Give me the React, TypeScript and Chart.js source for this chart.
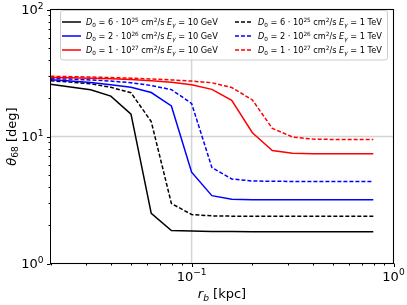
import React, { useEffect, useRef } from "react";
import { Chart, registerables } from "chart.js";

Chart.register(...registerables);

// ---- data ----
const rb = [0.02, 0.0251, 0.0316, 0.0398, 0.0501, 0.0631, 0.0794, 0.1, 0.126, 0.158, 0.2, 0.251, 0.316, 0.398, 0.501, 0.631, 0.794];

const blackSolid = [25.8, 24.5, 23.3, 20.8, 15.0, 2.48, 1.82, 1.80, 1.79, 1.79, 1.78, 1.78, 1.78, 1.78, 1.78, 1.78, 1.78];
const blueSolid = [28.0, 27.3, 26.6, 25.6, 24.4, 22.2, 17.4, 5.24, 3.42, 3.21, 3.18, 3.17, 3.17, 3.17, 3.17, 3.17, 3.17];
const redSolid = [29.2, 29.0, 28.8, 28.5, 28.1, 27.5, 26.7, 25.6, 23.5, 19.3, 10.7, 7.76, 7.39, 7.32, 7.31, 7.30, 7.30];
const blackDashed = [27.5, 26.8, 26.0, 24.4, 22.1, 13.1, 2.97, 2.43, 2.37, 2.36, 2.36, 2.36, 2.36, 2.36, 2.36, 2.36, 2.36];
const blueDashed = [28.6, 28.3, 27.9, 27.3, 26.5, 25.2, 23.4, 18.2, 5.70, 4.63, 4.46, 4.44, 4.43, 4.43, 4.43, 4.43, 4.43];
const redDashed = [29.8, 29.6, 29.4, 29.1, 28.8, 28.4, 27.9, 27.3, 26.5, 24.3, 19.4, 11.6, 9.90, 9.54, 9.48, 9.47, 9.47];

const xMajor = [0.1, 1];
const xMinor = [0.02, 0.03, 0.04, 0.05, 0.06, 0.07, 0.08, 0.09, 0.2, 0.3, 0.4, 0.5, 0.6, 0.7, 0.8, 0.9];
const yMajor = [1, 10, 100];
const yMinor = [2, 3, 4, 5, 6, 7, 8, 9, 20, 30, 40, 50, 60, 70, 80, 90];
const xTickExp = ["\u22121", "0"];
const yTickExp = ["0", "1", "2"];

type Seg = { t: string; it?: boolean; sub?: boolean; sup?: boolean };

const legendLabels: Seg[][] = [
  [{ t: "D", it: true }, { t: "0", sub: true }, { t: " = 6 \u00b7 10" }, { t: "25", sup: true }, { t: " cm" }, { t: "2", sup: true }, { t: "/s " }, { t: "E", it: true }, { t: "\u03b3", it: true, sub: true }, { t: " = 10 GeV" }],
  [{ t: "D", it: true }, { t: "0", sub: true }, { t: " = 2 \u00b7 10" }, { t: "26", sup: true }, { t: " cm" }, { t: "2", sup: true }, { t: "/s " }, { t: "E", it: true }, { t: "\u03b3", it: true, sub: true }, { t: " = 10 GeV" }],
  [{ t: "D", it: true }, { t: "0", sub: true }, { t: " = 1 \u00b7 10" }, { t: "27", sup: true }, { t: " cm" }, { t: "2", sup: true }, { t: "/s " }, { t: "E", it: true }, { t: "\u03b3", it: true, sub: true }, { t: " = 10 GeV" }],
  [{ t: "D", it: true }, { t: "0", sub: true }, { t: " = 6 \u00b7 10" }, { t: "25", sup: true }, { t: " cm" }, { t: "2", sup: true }, { t: "/s " }, { t: "E", it: true }, { t: "\u03b3", it: true, sub: true }, { t: " = 1 TeV" }],
  [{ t: "D", it: true }, { t: "0", sub: true }, { t: " = 2 \u00b7 10" }, { t: "26", sup: true }, { t: " cm" }, { t: "2", sup: true }, { t: "/s " }, { t: "E", it: true }, { t: "\u03b3", it: true, sub: true }, { t: " = 1 TeV" }],
  [{ t: "D", it: true }, { t: "0", sub: true }, { t: " = 1 \u00b7 10" }, { t: "27", sup: true }, { t: " cm" }, { t: "2", sup: true }, { t: "/s " }, { t: "E", it: true }, { t: "\u03b3", it: true, sub: true }, { t: " = 1 TeV" }],
];

const xTitle: Seg[] = [{ t: "r", it: true }, { t: "b", it: true, sub: true }, { t: " [kpc]" }];
const yTitle: Seg[] = [{ t: "\u03b8", it: true }, { t: "68", sub: true }, { t: " [deg]" }];

const series = [
  { values: blackSolid, color: "#000000", dash: false },
  { values: blueSolid, color: "#0000ff", dash: false },
  { values: redSolid, color: "#ff0000", dash: false },
  { values: blackDashed, color: "#000000", dash: true },
  { values: blueDashed, color: "#0000ff", dash: true },
  { values: redDashed, color: "#ff0000", dash: true },
];

const FONT = '"DejaVu Sans", "Liberation Sans", sans-serif';
const DASH = [4, 2];

function drawRich(ctx: CanvasRenderingContext2D, segs: Seg[], x: number, y: number, size: number, draw = true): number {
  let cx = x;
  for (const s of segs) {
    const fs = s.sub || s.sup ? size * 0.7 : size;
    ctx.font = `${s.it ? "italic " : ""}${fs}px ${FONT}`;
    const dy = s.sub ? size * 0.22 : s.sup ? -size * 0.42 : 0;
    if (draw) ctx.fillText(s.t, cx, y + dy);
    cx += ctx.measureText(s.t).width;
  }
  return cx - x;
}

const decor = {
  id: "decor",
  beforeDatasetsDraw(chart: any) {
    const { ctx, chartArea: a, scales } = chart;
    ctx.save();
    ctx.strokeStyle = "rgba(176,176,176,0.55)";
    ctx.lineWidth = 1.5;
    for (const v of xMajor) {
      const px = scales.x.getPixelForValue(v);
      ctx.beginPath();
      ctx.moveTo(px, a.top);
      ctx.lineTo(px, a.bottom);
      ctx.stroke();
    }
    for (const v of yMajor) {
      const py = scales.y.getPixelForValue(v);
      ctx.beginPath();
      ctx.moveTo(a.left, py);
      ctx.lineTo(a.right, py);
      ctx.stroke();
    }
    ctx.restore();
  },
  afterDraw(chart: any) {
    const { ctx, chartArea: a, scales } = chart;
    ctx.save();
    // frame
    ctx.strokeStyle = "#000";
    ctx.lineWidth = 1;
    ctx.strokeRect(a.left, a.top, a.right - a.left, a.bottom - a.top);
    // ticks
    const tick = (px: number, py: number, dx: number, dy: number) => {
      ctx.beginPath();
      ctx.moveTo(px, py);
      ctx.lineTo(px + dx, py + dy);
      ctx.stroke();
    };
    for (const v of xMajor) tick(Math.round(scales.x.getPixelForValue(v)) + 0.5, a.bottom, 0, 3.5);
    for (const v of xMinor) tick(Math.round(scales.x.getPixelForValue(v)) + 0.5, a.bottom, 0, 2);
    for (const v of yMajor) tick(a.left, Math.round(scales.y.getPixelForValue(v)) + 0.5, -3.5, 0);
    for (const v of yMinor) tick(a.left, Math.round(scales.y.getPixelForValue(v)) + 0.5, -2, 0);

    // tick labels
    ctx.fillStyle = "#000";
    ctx.textBaseline = "alphabetic";
    ctx.textAlign = "left";
    const TS = 13;
    xMajor.forEach((v, i) => {
      const segs: Seg[] = [{ t: "10" }, { t: xTickExp[i], sup: true }];
      const w = drawRich(ctx, segs, 0, 0, TS, false);
      const px = scales.x.getPixelForValue(v);
      drawRich(ctx, segs, px - w / 2, a.bottom + 17, TS);
    });
    yMajor.forEach((v, i) => {
      const segs: Seg[] = [{ t: "10" }, { t: yTickExp[i], sup: true }];
      const w = drawRich(ctx, segs, 0, 0, TS, false);
      const py = scales.y.getPixelForValue(v);
      drawRich(ctx, segs, a.left - 7 - w, py + 4.5, TS);
    });

    // axis titles
    const xw = drawRich(ctx, xTitle, 0, 0, 13, false);
    drawRich(ctx, xTitle, (a.left + a.right) / 2 - xw / 2, 298, 13);
    const yw = drawRich(ctx, yTitle, 0, 0, 13, false);
    ctx.save();
    ctx.translate(15.5, (a.top + a.bottom) / 2);
    ctx.rotate(-Math.PI / 2);
    drawRich(ctx, yTitle, -yw / 2, 0, 13);
    ctx.restore();

    // legend
    const lx = 60.5, ly = 10.5, lw = 327, lh = 49.5, r = 2.5;
    ctx.beginPath();
    ctx.moveTo(lx + r, ly);
    ctx.lineTo(lx + lw - r, ly);
    ctx.quadraticCurveTo(lx + lw, ly, lx + lw, ly + r);
    ctx.lineTo(lx + lw, ly + lh - r);
    ctx.quadraticCurveTo(lx + lw, ly + lh, lx + lw - r, ly + lh);
    ctx.lineTo(lx + r, ly + lh);
    ctx.quadraticCurveTo(lx, ly + lh, lx, ly + lh - r);
    ctx.lineTo(lx, ly + r);
    ctx.quadraticCurveTo(lx, ly, lx + r, ly);
    ctx.closePath();
    ctx.fillStyle = "rgba(255,255,255,0.8)";
    ctx.fill();
    ctx.strokeStyle = "#cccccc";
    ctx.lineWidth = 1;
    ctx.stroke();

    const rowY = [22, 36, 50];
    const colLine = [[62, 81], [235, 253]];
    const colText = [86, 258];
    const LS = 8.2;
    series.forEach((s, i) => {
      const col = i < 3 ? 0 : 1;
      const row = i % 3;
      ctx.strokeStyle = s.color;
      ctx.lineWidth = 1.5;
      ctx.setLineDash(s.dash ? DASH : []);
      ctx.beginPath();
      ctx.moveTo(colLine[col][0], rowY[row]);
      ctx.lineTo(colLine[col][1], rowY[row]);
      ctx.stroke();
      ctx.setLineDash([]);
      ctx.fillStyle = "#000";
      drawRich(ctx, legendLabels[i], colText[col], rowY[row] + 3, LS);
    });
    ctx.restore();
  },
};

export default function App() {
  const ref = useRef<HTMLCanvasElement | null>(null);
  useEffect(() => {
    if (!ref.current) return;
    const chart = new Chart(ref.current, {
      type: "line",
      data: {
        datasets: series.map((s) => ({
          data: rb.map((x, i) => ({ x, y: s.values[i] })),
          borderColor: s.color,
          backgroundColor: s.color,
          borderWidth: 1.5,
          borderDash: s.dash ? DASH : [],
          pointRadius: 0,
          tension: 0,
          fill: false,
        })),
      },
      options: {
        responsive: false,
        maintainAspectRatio: false,
        animation: false,
        events: [],
        layout: { padding: { left: 50.5, right: 13.5, top: 9.5, bottom: 41.5 } },
        plugins: { legend: { display: false }, tooltip: { enabled: false } },
        scales: {
          x: { type: "logarithmic", display: false, min: 0.02, max: 1 },
          y: { type: "logarithmic", display: false, min: 1, max: 100 },
        },
      },
      plugins: [decor],
    } as any);
    return () => chart.destroy();
  }, []);
  return (
    <div style={{ position: "absolute", left: 0, top: 0, width: 407, height: 305, background: "#fff" }}>
      <canvas ref={ref} width={407} height={305} />
    </div>
  );
}
